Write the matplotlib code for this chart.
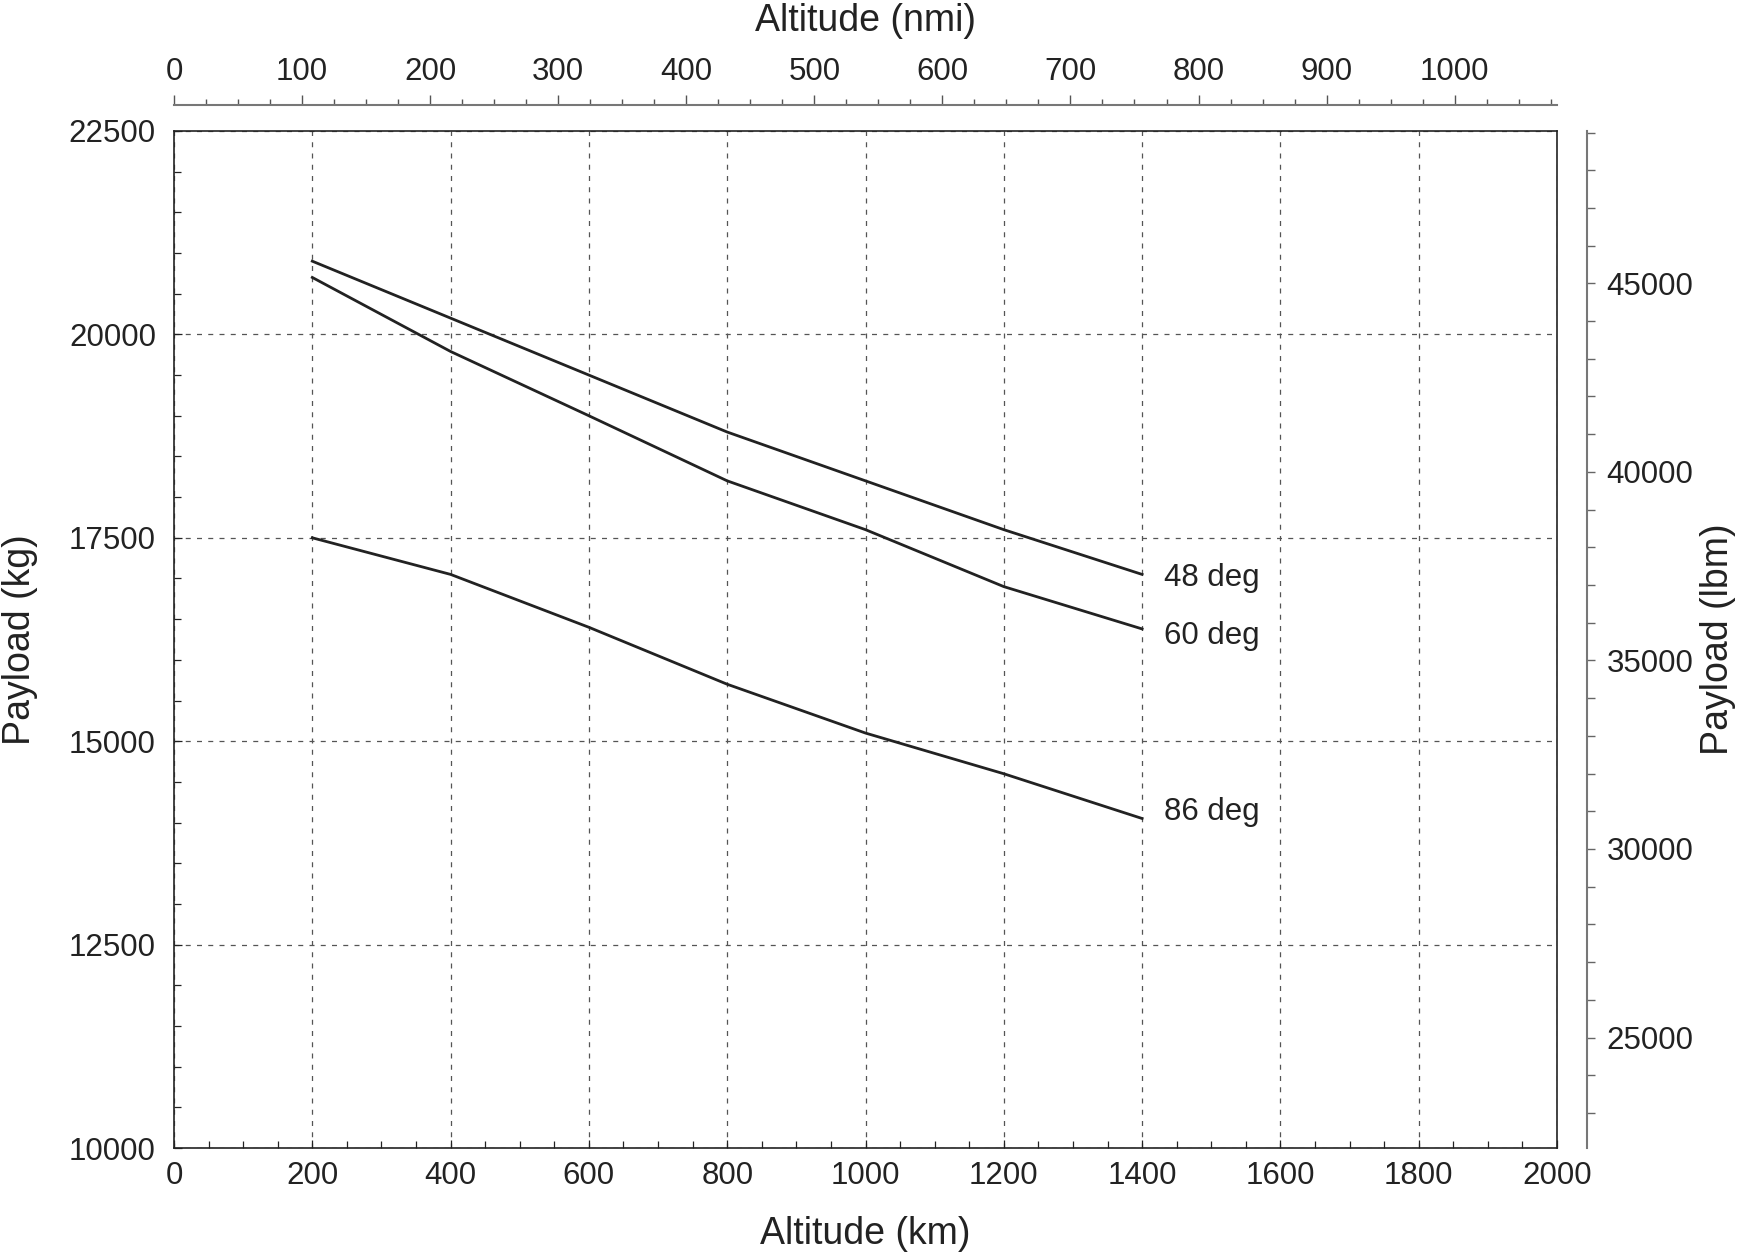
import matplotlib
matplotlib.use("Agg")
import matplotlib.pyplot as plt
from matplotlib.ticker import MultipleLocator

plt.rcParams['font.family'] = ['Liberation Sans', 'DejaVu Sans']

# ---- data ----
alt_km = [200, 400, 600, 800, 1000, 1200, 1400]
payload_48 = [20900, 20200, 19500, 18800, 18200, 17600, 17050]
payload_60 = [20700, 19790, 19000, 18200, 17600, 16900, 16380]
payload_86 = [17500, 17050, 16400, 15700, 15100, 14600, 14050]
series_labels = ["48 deg", "60 deg", "86 deg"]
label_dy = [-50, -90, 75]          # kg offset of the label from the line end

x_ticks_km = [0, 200, 400, 600, 800, 1000, 1200, 1400, 1600, 1800, 2000]
y_ticks_kg = [10000, 12500, 15000, 17500, 20000, 22500]
x_ticks_nmi = [0, 100, 200, 300, 400, 500, 600, 700, 800, 900, 1000]
y_ticks_lbm = [25000, 30000, 35000, 40000, 45000]
KM_PER_NMI = 1.852
lbm_range = (22070, 49040)

W, H = 1738, 1256
fig = plt.figure(figsize=(W / 100, H / 100), dpi=100)

TICK_FS = 22.5
LABEL_FS = 27

L, R, T, B = 174, 1557, 131, 1148
ax = fig.add_axes([L / W, 1 - B / H, (R - L) / W, (B - T) / H])

line_color = '#222222'
for ys, lab, dy in zip([payload_48, payload_60, payload_86], series_labels, label_dy):
    ax.plot(alt_km, ys, color=line_color, lw=2.0, solid_joinstyle='round')
    ax.text(alt_km[-1] + 32, ys[-1] + dy, lab, fontsize=TICK_FS, color='#222222',
            va='center', ha='left')

ax.set_xlim(0, 2000)
ax.set_ylim(10000, 22500)
ax.set_xticks(x_ticks_km)
ax.set_yticks(y_ticks_kg)
ax.xaxis.set_minor_locator(MultipleLocator(50))
ax.yaxis.set_minor_locator(MultipleLocator(500))
ax.tick_params(axis='both', which='both', direction='in', top=False, right=False,
               colors='#222222', labelsize=TICK_FS)
ax.tick_params(axis='both', which='major', length=6, width=0.9)
ax.tick_params(axis='both', which='minor', length=5, width=0.9)
ax.tick_params(axis='y', which='major', pad=13)
ax.tick_params(axis='x', which='major', pad=9)
ax.grid(True, which='major', color='#555555', lw=0.9, linestyle=(0, (4, 5)))
for s in ax.spines.values():
    s.set_color('#222222')
    s.set_linewidth(1.2)
ax.set_xlabel('Altitude (km)', fontsize=LABEL_FS, color='#222222', labelpad=18)
ax.set_ylabel('Payload (kg)', fontsize=LABEL_FS, color='#222222', labelpad=22)

# ---- top nmi axis ----
ytop = 105
axt = fig.add_axes([L / W, 1 - ytop / H, (R - L) / W, 0.00001])
axt.set_xlim(0, 2000 / KM_PER_NMI)
axt.set_ylim(0, 1)
axt.patch.set_visible(False)
for k in ['left', 'right', 'bottom']:
    axt.spines[k].set_visible(False)
axt.spines['top'].set_color('#777777')
axt.spines['top'].set_linewidth(1.5)
axt.set_yticks([])
axt.xaxis.set_ticks_position('top')
axt.xaxis.set_label_position('top')
axt.set_xticks(x_ticks_nmi)
axt.xaxis.set_minor_locator(MultipleLocator(25))
axt.tick_params(axis='x', which='both', direction='out', colors='#555555',
                labelcolor='#222222', labelsize=TICK_FS)
axt.tick_params(axis='x', which='major', length=7, width=1.0, pad=6)
axt.tick_params(axis='x', which='minor', length=4, width=1.0)
axt.set_xlabel('Altitude (nmi)', fontsize=LABEL_FS, color='#222222', labelpad=19)

# ---- right lbm axis ----
xr = 1587
axr = fig.add_axes([xr / W, 1 - B / H, 0.00001, (B - T) / H])
axr.set_ylim(*lbm_range)
axr.set_xlim(0, 1)
axr.patch.set_visible(False)
for k in ['left', 'top', 'bottom']:
    axr.spines[k].set_visible(False)
axr.spines['right'].set_color('#777777')
axr.spines['right'].set_linewidth(1.5)
axr.set_xticks([])
axr.yaxis.set_ticks_position('right')
axr.yaxis.set_label_position('right')
axr.set_yticks(y_ticks_lbm)
axr.yaxis.set_minor_locator(MultipleLocator(1000))
axr.tick_params(axis='y', which='both', direction='out', length=6, width=1.0,
                colors='#666666', labelcolor='#222222', labelsize=TICK_FS)
axr.tick_params(axis='y', which='major', pad=8)
axr.set_ylabel('Payload (lbm)', fontsize=LABEL_FS, color='#222222', labelpad=5)

fig.savefig('out.png', dpi=100)
